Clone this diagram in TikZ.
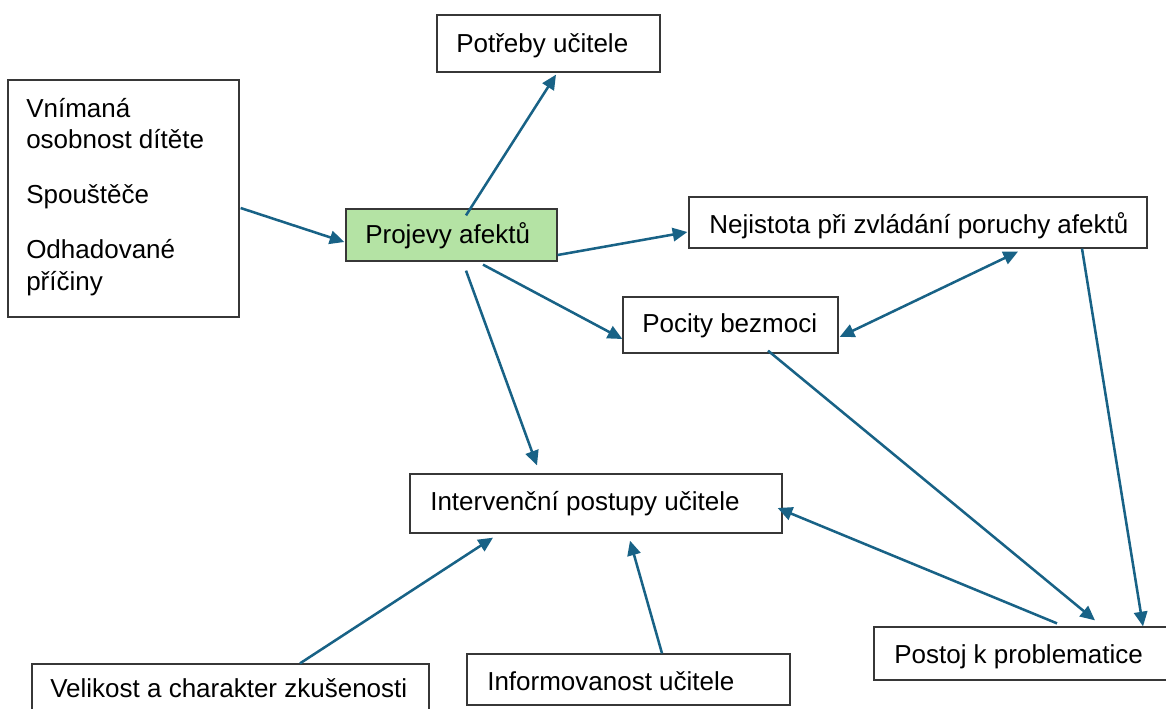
\documentclass[tikz,border=0pt]{standalone}
\usepackage{fontspec}
\setmainfont{Liberation Sans}
\usetikzlibrary{arrows.meta,calc}
\definecolor{linkblue}{RGB}{24,98,134}
\definecolor{boxgreen}{RGB}{180,227,164}
\definecolor{boxline}{RGB}{55,55,55}
\begin{document}
\begin{tikzpicture}[x=0.75pt,y=-0.75pt,
  box/.style={draw=boxline,line width=0.95pt,fill=white,inner sep=0pt,rectangle},
  txt/.style={anchor=base west,inner sep=0pt,font=\fontsize{19.5}{23}\selectfont},
  link/.style={draw=linkblue,line width=1.9pt,-{Triangle[length=11pt,width=10pt]}},
  duplex/.style={draw=linkblue,line width=1.9pt,{Triangle[length=11pt,width=10pt]}-{Triangle[length=11pt,width=10pt]}}]
\useasboundingbox (0,0) rectangle (1166,708);
\clip (0,0) rectangle (1166,708);

% boxes
\node[box,minimum width=167.25pt,minimum height=42.75pt] (need) at (548.5,43.5) {};
\node[box,minimum width=173.25pt,minimum height=177.75pt] (left) at (123.5,198.5) {};
\node[box,fill=boxgreen,minimum width=158.25pt,minimum height=39pt] (proj) at (451.5,235) {};
\node[box,minimum width=343.5pt,minimum height=38.25pt] (nejist) at (918,222.5) {};
\node[box,minimum width=161.25pt,minimum height=42pt] (pocity) at (730.5,325) {};
\node[box,minimum width=279pt,minimum height=44.25pt] (interv) at (596,503.5) {};
\node[box,minimum width=297.75pt,minimum height=42pt] (velik) at (230.5,692) {};
\node[box,minimum width=242.25pt,minimum height=38.25pt] (inform) at (628.5,679.5) {};
\node[box,minimum width=222pt,minimum height=39.75pt] (postoj) at (1022,653.5) {};

% labels
\node[txt] (needT) at (456,52) {Potřeby učitele};
\node[txt] (leftA) at (26,117) {Vnímaná};
\node[txt] (leftB) at (26,148) {osobnost dítěte};
\node[txt] (leftC) at (26,203) {Spouštěče};
\node[txt] (leftD) at (26,258) {Odhadované};
\node[txt] (leftE) at (26,290) {příčiny};
\node[txt] (projT) at (365,243) {Projevy afektů};
\node[txt] (nejistT) at (709,233) {Nejistota při zvládání poruchy afektů};
\node[txt] (pocityT) at (642,332) {Pocity bezmoci};
\node[txt] (intervT) at (430,510) {Intervenční postupy učitele};
\node[txt] (velikT) at (50,697) {Velikost a charakter zkušenosti};
\node[txt] (informT) at (487,690) {Informovanost učitele};
\node[txt] (postojT) at (894,663) {Postoj k problematice};

% connectors
\draw[link] ($(left.east)+(1,9.5)$) -- ($(proj.west)+(-1,7)$);
\draw[link] ($(proj.north)+(14.5,7)$) -- ($(need.south)+(7.5,2)$);
\draw[link] ($(proj.east)+(0,20)$) -- ($(nejist.west)+(-1,9.5)$);
\draw[link] ($(proj.south)+(31.5,3)$) -- ($(pocity.west)+(0,14)$);
\draw[link] ($(proj.south)+(14.5,9)$) -- ($(interv.north)+(-59,-8)$);
\draw[duplex] ($(pocity.east)+(1,12)$) -- ($(nejist.south)+(100,3)$);
\draw[link] ($(pocity.south)+(37.5,-3)$) -- ($(postoj.north)+(73,-6)$);
\draw[link] ($(nejist.south)+(164,0)$) -- ($(postoj.north)+(121,0)$);
\draw[link] ($(postoj.north)+(35,-3)$) -- ($(interv.east)+(-5,4.5)$);
\draw[link] ($(velik.north)+(69.5,0)$) -- ($(interv.south)+(-103,4)$);
\draw[link] ($(inform.north)+(33.5,0)$) -- ($(interv.south)+(34,7)$);
\end{tikzpicture}
\end{document}
